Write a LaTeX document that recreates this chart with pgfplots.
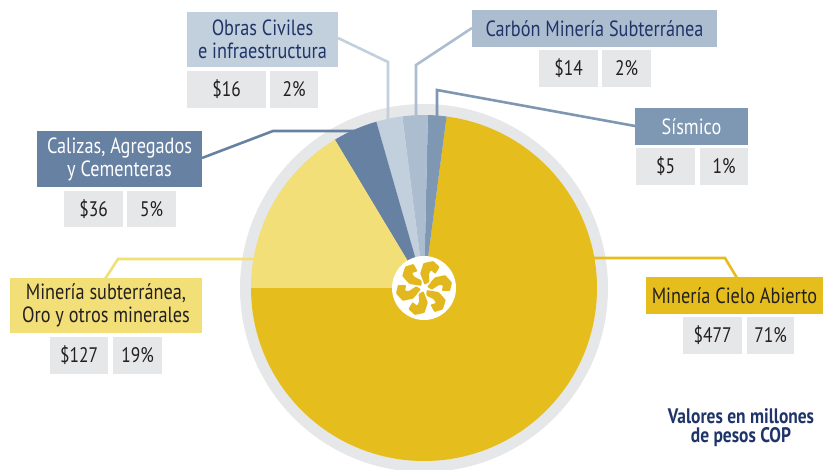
\documentclass[border=0pt]{standalone}
\usepackage{pgfplots}
\pgfplotsset{compat=1.18}
\usepackage{pgfplotstable}
\usepackage{fontspec}
\setmainfont{PT Sans}[FakeStretch=0.83]

\definecolor{sec0}{HTML}{E5BE1E}% Mineria cielo abierto
\definecolor{sec1}{HTML}{7E97B2}% Sismico
\definecolor{sec2}{HTML}{ADBDD0}% Carbon
\definecolor{sec3}{HTML}{C2D0DD}% Obras civiles
\definecolor{sec4}{HTML}{6781A3}% Calizas
\definecolor{sec5}{HTML}{F2DF78}% Mineria subterranea
\definecolor{ringc}{HTML}{E6E7E9}
\definecolor{valbox}{HTML}{E6E7E9}
\definecolor{navy}{HTML}{1F3468}
\definecolor{ink}{HTML}{231F20}
\definecolor{logoY}{HTML}{E2B81E}

% value in millions COP, percent, drawn share of the circle (deg), counterclockwise from 180 deg
\pgfplotstableread{
sector  val pct share
Cielo   477 71  262.5
Sismico 5   1   6.2
Carbon  14  2   8.5
Obras   16  2   8.8
Calizas 36  5   15.0
Sub     127 19  59.0
}\pietable

\newcommand\labfont{\fontsize{22}{23}\selectfont}
\newcommand\valfont{\fontsize{21}{23}\selectfont}
% box: x1 y1 x2 y2 fill textcolor text
\newcommand\tbox[7]{%
  \fill[#5] (axis cs:#1,#2) rectangle (axis cs:#3,#4);
  \node[text=#6, align=center, font=\labfont, inner sep=0pt] at (axis cs:{(#1+#3)/2},{(#2+#4)/2}) {#7};}
\newcommand\valbx[5]{%
  \fill[valbox] (axis cs:#1,#2) rectangle (axis cs:#3,#4);
  \node[text=ink, font=\valfont, inner sep=0pt] at (axis cs:{(#1+#3)/2},{(#2+#4)/2}) {#5};}
% sector: colour, start angle, end angle
\newcommand\sector[3]{%
  \fill[#1] (axis cs:424,288) -- ++(#2:173pt) arc[start angle=#2, end angle=#3, radius=173pt] -- cycle;}

\begin{document}
\pgfplotstablegetelem{0}{share}\of\pietable\pgfmathsetmacro\aA{-180+\pgfplotsretval}%
\pgfplotstablegetelem{1}{share}\of\pietable\pgfmathsetmacro\aB{\aA+\pgfplotsretval}%
\pgfplotstablegetelem{2}{share}\of\pietable\pgfmathsetmacro\aC{\aB+\pgfplotsretval}%
\pgfplotstablegetelem{3}{share}\of\pietable\pgfmathsetmacro\aD{\aC+\pgfplotsretval}%
\pgfplotstablegetelem{4}{share}\of\pietable\pgfmathsetmacro\aE{\aD+\pgfplotsretval}%
\pgfplotstablegetelem{5}{share}\of\pietable\pgfmathsetmacro\aF{\aE+\pgfplotsretval}%
\begin{tikzpicture}
\begin{axis}[
  at={(0,0)}, anchor=south west,
  x=1pt, y=1pt, xmin=0, xmax=827, ymin=0, ymax=470,
  y dir=reverse, hide axis, clip=true,
]
% grey ring
\fill[ringc] (axis cs:424,288) circle[radius=184pt];
% leader lines
\draw[sec3, line width=2.6pt] (axis cs:338,38) -- (axis cs:388,62) -- (axis cs:388,120);
\draw[sec2, line width=2.6pt] (axis cs:472,28) -- (axis cs:416,65) -- (axis cs:416,120);
\draw[sec1, line width=2.6pt] (axis cs:635,126) -- (axis cs:437,90) -- (axis cs:437,120);
\draw[sec4, line width=2.6pt] (axis cs:202,158) -- (axis cs:273,131) -- (axis cs:380,131);
\draw[sec5, line width=2.6pt] (axis cs:105,279) -- (axis cs:118,259) -- (axis cs:270,259);
\draw[sec0, line width=2.6pt] (axis cs:580,258) -- (axis cs:725,258) -- (axis cs:737,278);
% sectors
\sector{sec0}{-180}{\aA}
\sector{sec1}{\aA}{\aB}
\sector{sec2}{\aB}{\aC}
\sector{sec3}{\aC}{\aD}
\sector{sec4}{\aD}{\aE}
\sector{sec5}{\aE}{\aF}
% centre logo
\fill[white] (axis cs:424,288) circle[radius=32pt];
\pgfplotsinvokeforeach{0,60,...,300}{
  \fill[logoY, shift={(axis cs:424,288)}, rotate=#1, scale=1.08, rounded corners=0.8pt]
    (0.5pt,3pt) -- (-3.5pt,13.5pt) -- (-0.5pt,23pt) -- (8.5pt,25pt) -- (14.5pt,19.5pt)
    -- (10.5pt,13pt) -- (6.5pt,16.5pt) -- (4.5pt,13pt) -- (5pt,5.5pt) -- cycle;
}
% labels
\tbox{187}{12}{338}{67}{sec3}{navy}{Obras Civiles\\e infraestructura}
\valbx{187}{71}{266}{108}{\$16}
\valbx{270}{71}{318}{108}{2\%}
\tbox{472}{10}{717}{47}{sec2}{navy}{Carbón Minería Subterránea}
\valbx{539}{50}{598}{87}{\$14}
\valbx{602}{50}{651}{87}{2\%}
\tbox{37}{131}{202}{187}{sec4}{white}{Calizas, Agregados\\y Cementeras}
\valbx{64}{191}{123}{227}{\$36}
\valbx{127}{191}{176}{227}{5\%}
\tbox{635}{108}{748}{145}{sec1}{white}{Sísmico}
\valbx{636}{148}{695}{185}{\$5}
\valbx{700}{148}{748}{185}{1\%}
\tbox{10}{278}{202}{333}{sec5}{ink}{Minería subterránea,\\Oro y otros minerales}
\valbx{50}{337}{108}{374}{\$127}
\valbx{113}{337}{162}{374}{19\%}
\tbox{646}{277}{823}{314}{sec0}{ink}{Minería Cielo Abierto}
\valbx{683}{317}{742}{354}{\$477}
\valbx{747}{317}{794}{354}{71\%}
\node[text=navy, align=center, font=\bfseries\fontsize{21}{19}\selectfont] at (axis cs:741,428) {Valores en millones\\de pesos COP};
\end{axis}
\pgfresetboundingbox
\path (0,0) rectangle (827pt,470pt);
\end{tikzpicture}
\end{document}
